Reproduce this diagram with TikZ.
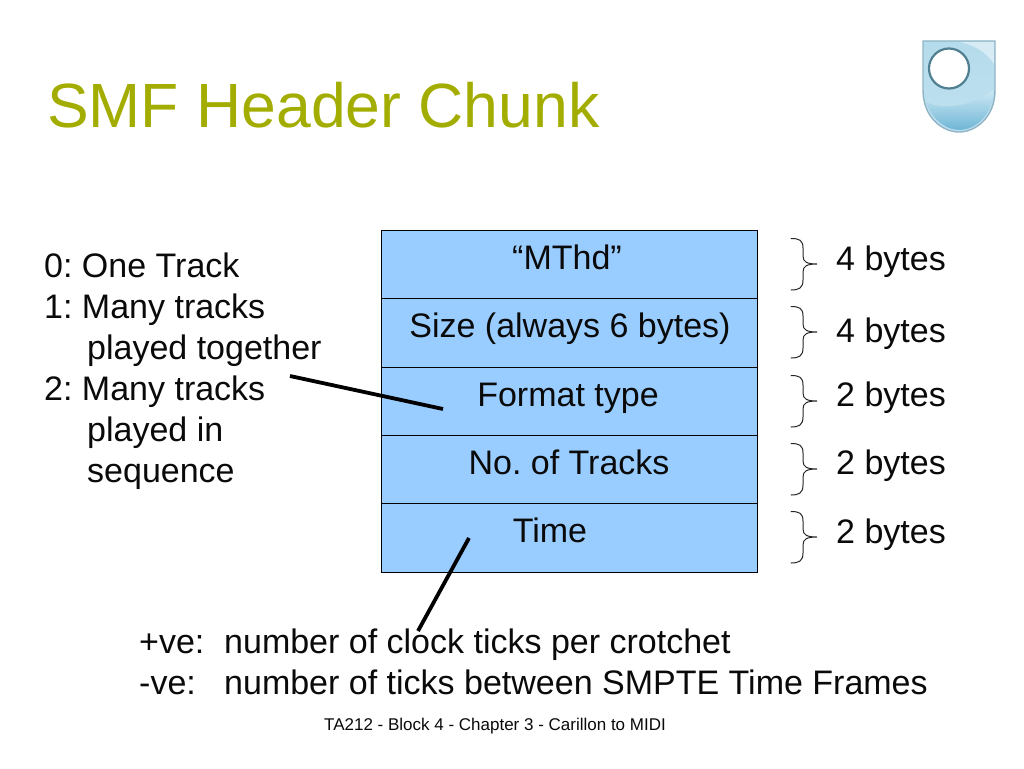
\documentclass[tikz,border=0pt]{standalone}
\usepackage{fontspec}
\setmainfont{Liberation Sans}
\usetikzlibrary{calc}
\AtBeginDocument{\frenchspacing}
\definecolor{titlegreen}{HTML}{A3AD00}
\definecolor{rowblue}{HTML}{99CCFF}
\definecolor{inktext}{HTML}{0A0A0A}
\definecolor{logotop}{HTML}{B5DCEC}
\definecolor{logomid}{HTML}{CDE8F4}
\definecolor{logolow}{HTML}{BFE0EF}
\definecolor{logodeep}{HTML}{6FB6D6}
\definecolor{logoedge}{HTML}{8FB4C6}
\definecolor{logoring}{HTML}{4F7F90}
\tikzset{
  x=1pt,y=-1pt,
  rowbox/.style={draw=black,line width=1pt,fill=rowblue,minimum width=376pt,minimum height=68.3pt,inner sep=0pt,anchor=north west},
  rowtext/.style={text=inktext,font=\fontsize{34}{40}\selectfont,anchor=base,inner sep=0pt},
  lefttext/.style={text=inktext,font=\fontsize{34}{40}\selectfont,anchor=base west,inner sep=0pt},
  pointer/.style={draw=black,line width=3.8pt},
  bytebrace/.style={draw=black!85,line width=1pt,line cap=round}
}
\newcommand{\bytebr}[1]{%
  \draw[bytebrace] (791,#1-25.5) .. controls (799,#1-25.5) and (803,#1-24) .. (803,#1-16)
    -- (803,#1-8) .. controls (803,#1-2) and (807,#1) .. (817,#1)
    .. controls (807,#1) and (803,#1+2) .. (803,#1+8)
    -- (803,#1+16) .. controls (803,#1+24) and (799,#1+26) .. (791,#1+26);}
\begin{document}
\begin{tikzpicture}
\useasboundingbox (0,0) rectangle (1024,768);
\fill[white] (0,0) rectangle (1024,768);

\node[anchor=base west,inner sep=0pt,text=titlegreen,font=\fontsize{62.5}{72}\selectfont] (title) at (47,127) {SMF Header Chunk};

% logo
\shade[top color=logotop,middle color=logomid,bottom color=logolow,draw=logoedge,line width=1.4pt]
  (923,41) -- (995,41) -- (995,90) .. controls (995,118) and (975,132) .. (959,132)
  .. controls (943,132) and (923,118) .. (923,90) -- cycle;
\shade[top color=logomid,bottom color=logodeep]
  (926,102) .. controls (945,112) and (975,104) .. (993,90)
  .. controls (993,116) and (975,130) .. (959,130)
  .. controls (945,130) and (931,118) .. (926,102) -- cycle;
\fill[white,opacity=.45] (960,42) -- (994,42) -- (994,64) .. controls (985,50) and (972,45) .. (960,42) -- cycle;
\node[circle,draw=logoring,line width=2.2pt,fill=white,minimum size=40pt,inner sep=0pt] (logoeye) at (949,68.5) {};

% rows
\node[rowbox] (r1) at (381,230) {};
\node[rowbox] (r2) at (381,298.3) {};
\node[rowbox] (r3) at (381,366.6) {};
\node[rowbox] (r4) at (381,434.9) {};
\node[rowbox] (r5) at (381,503.2) {};

\node[rowtext] (t1) at (567,269) {“MThd”};
\node[rowtext] (t2) at (570,337.5) {Size (always 6 bytes)};
\node[rowtext] (t3) at (568,406) {Format type};
\node[rowtext] (t4) at (569,474) {No. of Tracks};
\node[rowtext] (t5) at (550,542) {Time};

% braces + byte labels
\bytebr{264}
\bytebr{332}
\bytebr{401}
\bytebr{469}
\bytebr{537}
\node[lefttext] (b1) at (836,270) {4 bytes};
\node[lefttext] (b2) at (836,342) {4 bytes};
\node[lefttext] (b3) at (836,406) {2 bytes};
\node[lefttext] (b4) at (836,474) {2 bytes};
\node[lefttext] (b5) at (836,543) {2 bytes};

% left list
\node[lefttext] (l1) at (44,277.5) {0: One Track};
\node[lefttext] (l2) at (44,318.5) {1: Many tracks};
\node[lefttext] (l3) at (87,359.5) {played together};
\node[lefttext] (l4) at (44,400.5) {2: Many tracks};
\node[lefttext] (l5) at (87,441.5) {played in};
\node[lefttext] (l6) at (87,482.5) {sequence};

% bottom
\node[lefttext] (p1) at (139,653.5) {+ve:};
\node[lefttext] (p2) at (224,653.5) {number of clock ticks per crotchet};
\node[lefttext] (m1) at (139,694.5) {-ve:};
\node[lefttext] (m2) at (224,694.5) {number of ticks between SMPTE Time Frames};

\node[anchor=base,inner sep=0pt,text=inktext,font=\fontsize{17}{20}\selectfont] (foot) at (495,730) {TA212 - Block 4 - Chapter 3 - Carillon to MIDI};

% pointers
\coordinate (fmtA) at (290,376);
\coordinate (fmtB) at (443,409);
\coordinate (timeA) at (469,538);
\coordinate (timeB) at (418,631);
\draw[pointer] (fmtA) -- (fmtB);
\draw[pointer] (timeA) -- (timeB);
\end{tikzpicture}
\end{document}
